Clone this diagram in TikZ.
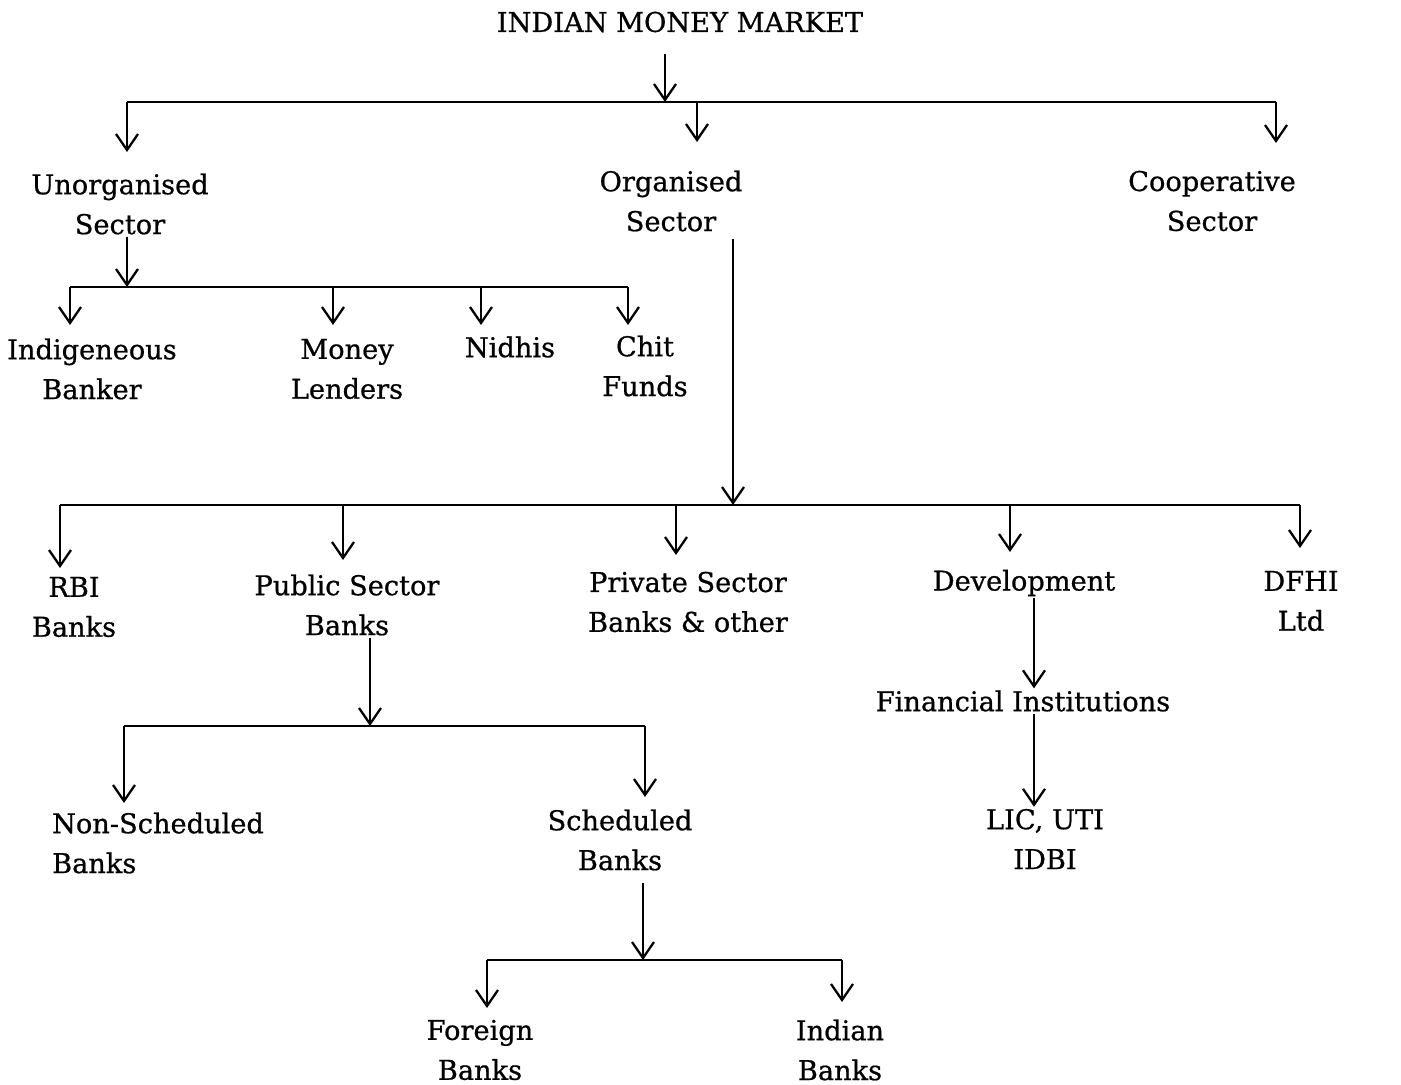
\documentclass[tikz,border=0pt]{standalone}
\usepackage{fontspec}
\setmainfont{DejaVu Serif}
\newfontfamily\lblfont{DejaVu Serif}[FakeBold=0.7]
\usetikzlibrary{arrows.meta, positioning}

\begin{document}
\begin{tikzpicture}[x=0.02cm, y=-0.02cm,
      lbl/.style={align=center, inner sep=1pt, font=\lblfont\fontsize{15.5}{22.7}\selectfont},
      ln/.style={line width=1.5pt},
      arr/.style={ln, -{Straight Barb[length=3.2mm, width=4.4mm, line width=1.3pt]}}]
    \useasboundingbox[fill=white] (0,0) rectangle (1401,1085);
    % labels
    \node[lbl] (imm) at (680,22) {INDIAN MONEY MARKET};
    \node[lbl] (uns) at (120,204) {Unorganised\\Sector};
    \node[lbl] (org) at (671,201) {Organised\\Sector};
    \node[lbl] (coop) at (1212,201) {Cooperative\\Sector};
    \node[lbl] (ind) at (92,369) {Indigeneous\\Banker};
    \node[lbl] (mon) at (347,369) {Money\\Lenders};
    \node[lbl] (nid) at (510,347) {Nidhis};
    \node[lbl] (chit) at (645,366) {Chit\\Funds};
    \node[lbl] (rbi) at (74,607) {RBI\\Banks};
    \node[lbl] (psb) at (347,605) {Public Sector\\Banks};
    \node[lbl] (pvt) at (688,602) {Private Sector\\Banks \& other};
    \node[lbl] (dev) at (1024,583) {Development};
    \node[lbl] (dfhi) at (1301,601) {DFHI\\Ltd};
    \node[lbl] (fin) at (1023,701) {Financial Institutions};
    \node[lbl] (lic) at (1045,839) {LIC, UTI\\IDBI};
    \node[lbl, align=left] (nsb) at (158,843) {Non-Scheduled\\Banks};
    \node[lbl] (sch) at (620,840) {Scheduled\\Banks};
    \node[lbl] (fgn) at (480,1050) {Foreign\\Banks};
    \node[lbl] (inb) at (840,1050) {Indian\\Banks};
    % bus rows
    \coordinate (busA) at (665,102);
    \coordinate (busB) at (127,287);
    \coordinate (busC) at (733,505);
    \coordinate (busD) at (370,726);
    \coordinate (busE) at (643,960);
    % market -> sectors
    \draw[arr, shorten <=4mm] (imm.south -| busA) -- (busA);
    \foreach \n/\x/\y in {uns/127/152, org/697/142, coop/1276/143} {
      \coordinate (\n-in) at (\x,\y);
      \draw[arr] (\n-in |- busA) -- (\n-in);
    }
    \draw[ln] (uns-in |- busA) -- (coop-in |- busA);
    % unorganised
    \draw[arr] (uns.south -| busB) -- (busB);
    \foreach \n/\x/\y in {ind/70/325, mon/333/325, nid/481/325, chit/628/325} {
      \coordinate (\n-in) at (\x,\y);
      \draw[arr] (\n-in |- busB) -- (\n-in);
    }
    \draw[ln] (ind-in |- busB) -- (chit-in |- busB);
    % organised
    \draw[arr, shorten <=1mm] (org.south -| busC) -- (busC);
    \foreach \n/\x/\y in {rbi/60/568, psb/343/560, pvt/676/555, dev/1010/552, dfhi/1300/548} {
      \coordinate (\n-in) at (\x,\y);
      \draw[arr] (\n-in |- busC) -- (\n-in);
    }
    \draw[ln] (rbi-in |- busC) -- (dfhi-in |- busC);
    % development chain
    \coordinate (dfi) at (1034,0);
    \draw[arr] (dev.south -| dfi) -- (fin.north -| dfi);
    \draw[arr] (fin.south -| dfi) -- (lic.north -| dfi);
    % public sector banks
    \draw[arr] (psb.south -| busD) -- (busD);
    \foreach \n/\x/\y in {nsb/124/803, sch/645/797} {
      \coordinate (\n-in) at (\x,\y);
      \draw[arr] (\n-in |- busD) -- (\n-in);
    }
    \draw[ln] (nsb-in |- busD) -- (sch-in |- busD);
    % scheduled banks
    \draw[arr, shorten <=2mm] (sch.south -| busE) -- (busE);
    \foreach \n/\x/\y in {fgn/487/1008, inb/842/1002} {
      \coordinate (\n-in) at (\x,\y);
      \draw[arr] (\n-in |- busE) -- (\n-in);
    }
    \draw[ln] (fgn-in |- busE) -- (inb-in |- busE);
  \end{tikzpicture}
\end{document}
